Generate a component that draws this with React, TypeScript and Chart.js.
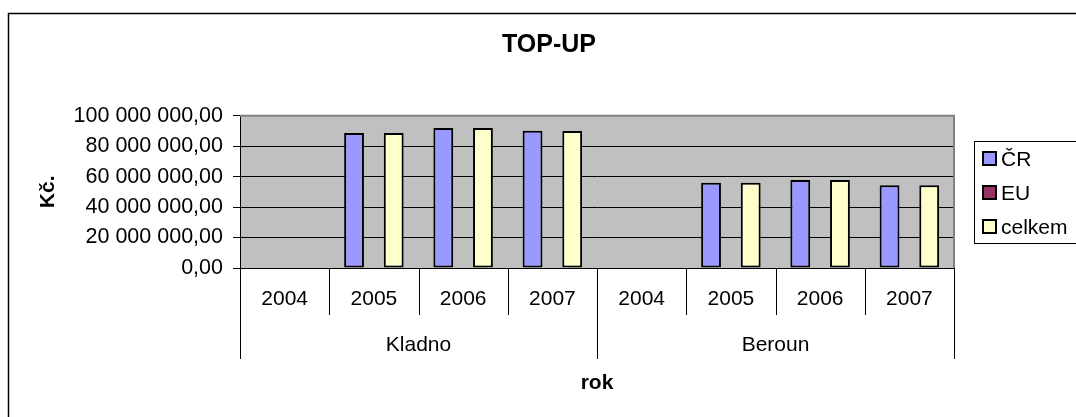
import React, { useEffect, useRef } from "react";
import { Chart, registerables } from "chart.js";

Chart.register(...registerables);

const categories = ["2004", "2005", "2006", "2007", "2004", "2005", "2006", "2007"];
const cities = ["Kladno", "Beroun"];
const yearsPerCity = 4;
const crValues = [0, 88600000, 91900000, 90100000, 0, 56000000, 57800000, 54300000];
const euValues = [0, 0, 0, 0, 0, 0, 0, 0];
const celkemValues = [0, 88600000, 91900000, 89900000, 0, 56000000, 57800000, 54300000];
const seriesNames = ["ČR", "EU", "celkem"];
const seriesColors = ["#9999FF", "#993366", "#FFFFCC"];
const chartTitle = "TOP-UP";
const yTitle = "Kč.";
const xTitle = "rok";

const FONT = "'Liberation Sans', Arial, sans-serif";

function fmt(v: number): string {
  const s = Math.round(v).toString();
  const grouped = s.replace(/\B(?=(\d{3})+(?!\d))/g, " ");
  return grouped + ",00";
}

const decorPlugin = {
  id: "excelDecor",
  beforeDraw(chart: any) {
    const { ctx, chartArea } = chart;
    ctx.save();
    ctx.fillStyle = "#C0C0C0";
    ctx.fillRect(chartArea.left, chartArea.top, chartArea.right - chartArea.left, chartArea.bottom - chartArea.top);
    ctx.restore();
  },
  afterDraw(chart: any) {
    const { ctx, chartArea } = chart;
    const x = chart.scales.x;
    ctx.save();
    // plot border (top & right) in gray
    ctx.strokeStyle = "#808080";
    ctx.lineWidth = 2;
    ctx.beginPath();
    ctx.moveTo(chartArea.left, chartArea.top);
    ctx.lineTo(chartArea.right, chartArea.top);
    ctx.lineTo(chartArea.right, chartArea.bottom);
    ctx.stroke();

    // chart title
    ctx.fillStyle = "#000";
    ctx.font = `bold 25px ${FONT}`;
    ctx.textAlign = "center";
    ctx.textBaseline = "middle";
    ctx.fillText(chartTitle, 549, 45);

    // multi-level category axis
    const half = (x.getPixelForValue(1) - x.getPixelForValue(0)) / 2;
    const base = chartArea.bottom;
    ctx.strokeStyle = "#000";
    ctx.lineWidth = 1;
    ctx.font = `21px ${FONT}`;
    for (let i = 0; i <= categories.length; i++) {
      const px = Math.round(i < categories.length ? x.getPixelForValue(i) - half : x.getPixelForValue(i - 1) + half) + 0.5;
      const isCity = i % yearsPerCity === 0;
      ctx.beginPath();
      ctx.moveTo(px, base);
      ctx.lineTo(px, isCity ? base + 91 : base + 47);
      ctx.stroke();
    }
    categories.forEach((c, i) => {
      ctx.fillText(c, x.getPixelForValue(i), base + 31);
    });
    cities.forEach((c, j) => {
      const a = x.getPixelForValue(j * yearsPerCity) - half;
      const b = x.getPixelForValue(j * yearsPerCity + yearsPerCity - 1) + half;
      ctx.fillText(c, (a + b) / 2, base + 77);
    });

    // legend
    const lx = 974.5, ly = 141.5;
    ctx.strokeStyle = "#000";
    ctx.lineWidth = 1;
    ctx.strokeRect(lx, ly, 1076 - lx + 2, 102);
    ctx.textAlign = "left";
    chart.data.datasets.forEach((ds: any, i: number) => {
      const cy = 159 + i * 34;
      ctx.fillStyle = ds.backgroundColor;
      ctx.fillRect(983, cy - 7, 13, 13);
      ctx.lineWidth = 2;
      ctx.strokeStyle = "#000";
      ctx.strokeRect(983, cy - 7, 13, 13);
      ctx.fillStyle = "#000";
      ctx.fillText(ds.label, 1001, cy + 1);
    });

    // outer chart border
    ctx.strokeStyle = "#000";
    ctx.lineWidth = 1.5;
    ctx.beginPath();
    ctx.moveTo(8.5, 420);
    ctx.lineTo(8.5, 13.5);
    ctx.lineTo(1080, 13.5);
    ctx.stroke();
    ctx.restore();
  },
};

export default function App() {
  const ref = useRef<HTMLCanvasElement | null>(null);
  useEffect(() => {
    if (!ref.current) return;
    const values = [crValues, euValues, celkemValues];
    const chart = new Chart(ref.current, {
      type: "bar",
      data: {
        labels: categories,
        datasets: seriesNames.map((n, i) => ({
          label: n,
          data: values[i],
          backgroundColor: seriesColors[i],
          borderColor: "#000",
          borderWidth: 2,
          borderSkipped: false,
          categoryPercentage: 2 / 3,
          barPercentage: 1,
        })),
      },
      options: {
        animation: false,
        responsive: false,
        devicePixelRatio: 1,
        layout: { padding: { left: 0, right: 122, top: 115.7, bottom: 0 } },
        plugins: {
          legend: { display: false },
          tooltip: { enabled: false },
          title: { display: false },
        },
        scales: {
          x: {
            type: "category",
            offset: true,
            grid: { display: false },
            border: { display: true, color: "#000", width: 1 },
            ticks: { display: false },
            title: {
              display: true,
              text: xTitle,
              color: "#000",
              font: { family: FONT, size: 21, weight: "bold" },
              padding: { top: 0, bottom: 21.4 },
            },
            afterFit: (s: any) => {
              s.height = 149;
            },
          },
          y: {
            min: 0,
            max: 100000000,
            ticks: {
              stepSize: 20000000,
              color: "#000",
              padding: 10,
              font: { family: FONT, size: 21.5 },
              callback: (v: any) => fmt(Number(v)),
            },
            grid: { color: "#000", lineWidth: 1, tickLength: 7 },
            border: { display: true, color: "#000", width: 1 },
            title: {
              display: true,
              text: yTitle,
              color: "#000",
              font: { family: FONT, size: 21, weight: "bold" },
              padding: { top: 35.4, bottom: 0 },
            },
            afterFit: (s: any) => {
              s.width = 240;
            },
          },
        },
      } as any,
      plugins: [decorPlugin],
    });
    return () => chart.destroy();
  }, []);
  return (
    <div style={{ position: "absolute", left: 0, top: 0, width: 1076, height: 417, overflow: "hidden" }}>
      <canvas ref={ref} width={1076} height={417} />
    </div>
  );
}
